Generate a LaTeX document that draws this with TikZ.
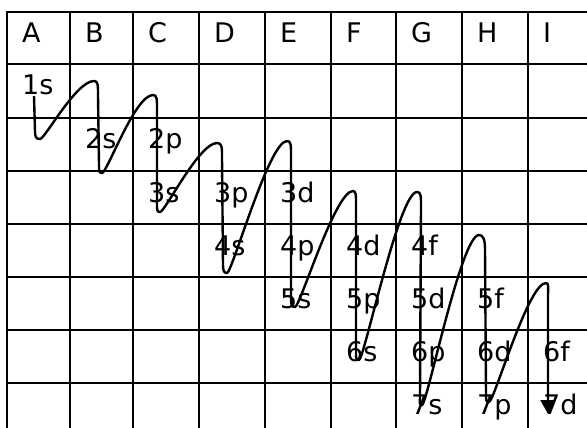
\documentclass[tikz,border=0pt]{standalone}
\usepackage{fontspec}
\setmainfont{DejaVu Sans}
\usetikzlibrary{arrows.meta}
\begin{document}
\begin{tikzpicture}[x=1pt,y=-1pt,
  gridline/.style={line width=2.8pt,line cap=rect},
  lbl/.style={anchor=base west,inner sep=0pt,font=\fontsize{27}{27}\selectfont},
  curve/.style={line width=2.4pt,line join=round,-{Triangle[width=15pt,length=14pt]}}]
\useasboundingbox (0,0) rectangle (587,428);
\clip (0,0) rectangle (587,428);
\fill[white] (0,0) rectangle (587,428);
\foreach \x in {7,70,133,199,265,331,396,462,528} \draw[gridline] (\x,12) -- (\x,445);
\foreach \y in {12,64,118,171,224,277,330,383} \draw[gridline] (7,\y) -- (600,\y);
% header
\node[lbl] (hA) at (22,43) {A};
\node[lbl] (hB) at (85,43) {B};
\node[lbl] (hC) at (148,43) {C};
\node[lbl] (hD) at (214,43) {D};
\node[lbl] (hE) at (280,43) {E};
\node[lbl] (hF) at (346,43) {F};
\node[lbl] (hG) at (411,43) {G};
\node[lbl] (hH) at (477,43) {H};
\node[lbl] (hI) at (543,43) {I};
% orbitals
\node[lbl] (s1) at (22,95) {1s};
\node[lbl] (s2) at (85,149) {2s};
\node[lbl] (p2) at (148,149) {2p};
\node[lbl] (s3) at (148,202) {3s};
\node[lbl] (p3) at (214,202) {3p};
\node[lbl] (d3) at (280,202) {3d};
\node[lbl] (s4) at (214,255) {4s};
\node[lbl] (p4) at (280,255) {4p};
\node[lbl] (d4) at (346,255) {4d};
\node[lbl] (f4) at (411,255) {4f};
\node[lbl] (s5) at (280,308) {5s};
\node[lbl] (p5) at (346,308) {5p};
\node[lbl] (d5) at (411,308) {5d};
\node[lbl] (f5) at (477,308) {5f};
\node[lbl] (s6) at (346,361) {6s};
\node[lbl] (p6) at (411,361) {6p};
\node[lbl] (d6) at (477,361) {6d};
\node[lbl] (f6) at (543,361) {6f};
\node[lbl] (s7) at (411,414) {7s};
\node[lbl] (p7) at (477,414) {7p};
\node[lbl] (d7) at (543,414) {7d};
% zigzag
\draw[curve] (34,96) -- (35,131) .. controls +(0,6) and +(-4,0) .. (40,139)
 .. controls +(5,0) and +(-18,0) .. (94,81) .. controls +(4,0) and +(0,-10) .. (98,95) -- (99,165) .. controls +(0,6) and +(-3,0) .. (102,173)
 .. controls +(5,0) and +(-18,0) .. (153,95) .. controls +(4,0) and +(0,-10) .. (157,109) -- (157,204) .. controls +(0,6) and +(-3,0) .. (160,212)
 .. controls +(5,0) and +(-18,0) .. (217,143) .. controls +(5,0) and +(0,-10) .. (222,157) -- (223,265) .. controls +(0,6) and +(-3,0) .. (227,273)
 .. controls +(5,0) and +(-18,0) .. (287,141) .. controls +(4,0) and +(0,-10) .. (291,155) -- (291,299) .. controls +(0,6) and +(-3,0) .. (295,307)
 .. controls +(5,0) and +(-18,0) .. (353,191) .. controls +(3,0) and +(0,-10) .. (356,205) -- (356,352) .. controls +(0,6) and +(-3,0) .. (359,360)
 .. controls +(5,0) and +(-18,0) .. (417,192) .. controls +(4,0) and +(0,-10) .. (421,206) -- (420,397) .. controls +(0,6) and +(-3,0) .. (422,405)
 .. controls +(5,0) and +(-18,0) .. (479,235) .. controls +(4,0) and +(0,-10) .. (485,249) -- (486,394) .. controls +(0,6) and +(-3,0) .. (489,402)
 .. controls +(5,0) and +(-18,0) .. (546,283) .. controls +(3,0) and +(0,-10) .. (548,297) -- (548,414);
\end{tikzpicture}
\end{document}
